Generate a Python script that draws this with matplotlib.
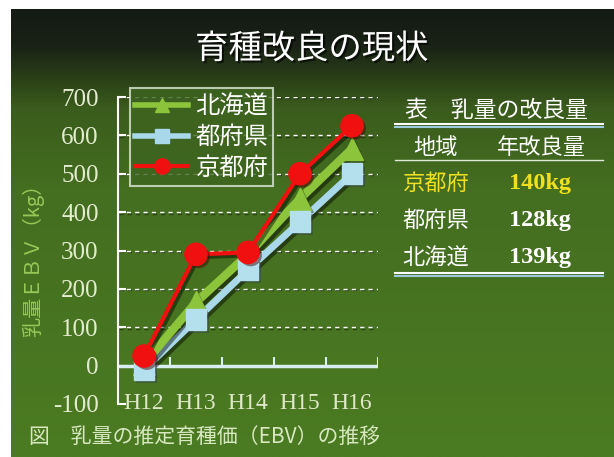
import numpy as np
import matplotlib
matplotlib.use('Agg')
import matplotlib.pyplot as plt
import matplotlib.patheffects as pe
from matplotlib.lines import Line2D
from matplotlib.colors import LinearSegmentedColormap

plt.rcParams['font.family'] = ['Noto Sans CJK JP', 'DejaVu Sans']

# data
years = ['H12', 'H13', 'H14', 'H15', 'H16']
hokkaido = [5, 165, 290, 435, 565]
tofuken = [-10, 120, 250, 375, 500]
kyoto = [25, 290, 295, 500, 625]
yticks = [-100, 0, 100, 200, 300, 400, 500, 600, 700]

table_title = '表　乳量の改良量'
table_head = ['地域', '年改良量']
regions = ['京都府', '都府県', '北海道']
gains = ['140kg', '128kg', '139kg']

W, H = 614, 457
fig = plt.figure(figsize=(W / 100, H / 100), dpi=100)
fig.patch.set_facecolor('white')

def fx(px):
    return px / W

def fy(py):
    return 1 - py / H

# background gradient panel
bg = fig.add_axes([fx(11), 0, 1 - fx(11), fy(9)])
cmap = LinearSegmentedColormap.from_list(
    'bg', [(0, '#141a14'), (0.08, '#192216'), (0.16, '#2c4218'),
           (0.22, '#3a5c1c'), (0.40, '#446e20'), (1.0, '#4b7b22')])
grad = np.linspace(0, 1, 256).reshape(-1, 1)
bg.imshow(grad, aspect='auto', cmap=cmap, extent=[0, 1, 0, 1], origin='upper')
bg.set_axis_off()

# title
fig.text(0.508, fy(49), '育種改良の現状', color='white', fontsize=24,
         ha='center', va='center',
         path_effects=[pe.withSimplePatchShadow(offset=(1.5, -1.5), shadow_rgbFace='black', alpha=0.6)])

# chart
ax = fig.add_axes([fx(118), fy(404), fx(378) - fx(118), (404 - 97) / H])
ax.set_facecolor('none')
x = np.arange(len(years))
ax.set_xlim(-0.5, len(years) - 0.5)
ax.set_ylim(-100, 700)

for s in ['top', 'right', 'bottom']:
    ax.spines[s].set_visible(False)
ax.spines['left'].set_color('white')
ax.spines['left'].set_linewidth(1.5)

ax.set_yticks(yticks)
ax.set_yticklabels([str(v) for v in yticks], family='Liberation Serif',
                   fontsize=18, color='#e4ecd0')
ax.tick_params(axis='y', direction='in', length=6, width=1.5, color='white', pad=14)
ax.set_xticks(x)
ax.set_xticklabels(years, family='Liberation Serif', fontsize=17, color='#dfe8c8')
ax.tick_params(axis='x', length=0, pad=-8)

for v in yticks:
    if v > 0:
        ax.axhline(v, color='white', lw=1, dashes=(3, 3), zorder=1,
                   path_effects=[pe.SimpleLineShadow(offset=(1, -1), alpha=0.4), pe.Normal()])
ax.axhline(0, color='#d8eef0', lw=2.5, zorder=2)
ax.vlines(x[:-1] + 0.5, 0, 22, color='#d8eef0', lw=1.5, zorder=2)
ax.vlines([len(years) - 0.5], 0, 22, color='#d8eef0', lw=1.5, zorder=2)

shadow_line = [pe.SimpleLineShadow(offset=(2, -2), alpha=0.45), pe.Normal()]
shadow_mark = [pe.SimplePatchShadow(offset=(2, -2), alpha=0.5), pe.Normal()]

ax.plot(x, tofuken, color='#a8d8ea', lw=5, zorder=3, path_effects=shadow_line, clip_on=False)
ax.plot(x, hokkaido, color='#8cc43c', lw=6, zorder=4, path_effects=shadow_line, clip_on=False)
ax.plot(x, hokkaido, ls='none', marker='^', ms=16, color='#8cc43c', zorder=4,
        path_effects=shadow_mark, clip_on=False)
ax.plot(x, tofuken, ls='none', marker='s', ms=15, color='#b4e0ee', zorder=5,
        path_effects=shadow_mark, clip_on=False)
ax.plot(x, kyoto, color='#f01010', lw=3, zorder=6, path_effects=shadow_line, clip_on=False)
ax.plot(x, kyoto, ls='none', marker='o', ms=16, color='#f01010', zorder=7,
        path_effects=shadow_mark, clip_on=False)

handles = [
    Line2D([], [], color='#8cc43c', lw=4, marker='^', ms=10),
    Line2D([], [], color='#a8d8ea', lw=4, marker='s', ms=10),
    Line2D([], [], color='#f01010', lw=3, marker='o', ms=11),
]
leg = ax.legend(handles, ['北海道', '都府県', '京都府'], loc='upper left',
                bbox_to_anchor=(0.046, 1.028), fontsize=17.5, frameon=True,
                fancybox=False, handlelength=2.2, handletextpad=0.3,
                labelspacing=0.2, borderpad=0.2, borderaxespad=0)
for t in leg.get_texts():
    t.set_color('white')
fr = leg.get_frame()
fr.set_facecolor('#3e6520')
fr.set_edgecolor('#dde8d8')
fr.set_linewidth(1.5)
leg.set_zorder(10)

# y label
fig.text(fx(33), fy(255), '乳量ＥＢＶ（kg）', rotation=90, color='#98c858',
         fontsize=14.5, ha='center', va='center')

# caption
fig.text(fx(29), fy(437), '図　乳量の推定育種価（EBV）の推移', color='#d8e8c0',
         fontsize=15, ha='left', va='center')

# right table
fig.text(fx(405), fy(110), table_title, color='white', fontsize=16.5,
         ha='left', va='center')
fig.add_artist(Line2D([fx(395), fx(603)], [fy(124), fy(124)], color='white', lw=1.5))
fig.add_artist(Line2D([fx(395), fx(603)], [fy(127), fy(127)], color='#9ccbe0', lw=1.5))
fig.text(fx(436), fy(147), table_head[0], color='white', fontsize=16, ha='center', va='center')
fig.text(fx(541), fy(147), table_head[1], color='white', fontsize=16, ha='center', va='center')
fig.add_artist(Line2D([fx(395), fx(603)], [fy(160), fy(160)], color='#e0e8d8', lw=1))
row_y = [183, 220, 258]
for name, gain, yy in zip(regions, gains, row_y):
    col = '#f0e020' if name == '京都府' else 'white'
    fig.text(fx(436), fy(yy), name, color=col, fontsize=16, ha='center', va='center')
    fig.text(fx(540), fy(yy), gain, color=col, fontsize=17.5, family='Liberation Serif',
             weight='bold', ha='center', va='center')
fig.add_artist(Line2D([fx(395), fx(603)], [fy(273), fy(273)], color='white', lw=1.5))
fig.add_artist(Line2D([fx(395), fx(603)], [fy(276), fy(276)], color='#9ccbe0', lw=1.5))

fig.savefig('out.png', dpi=100, facecolor=fig.get_facecolor())
